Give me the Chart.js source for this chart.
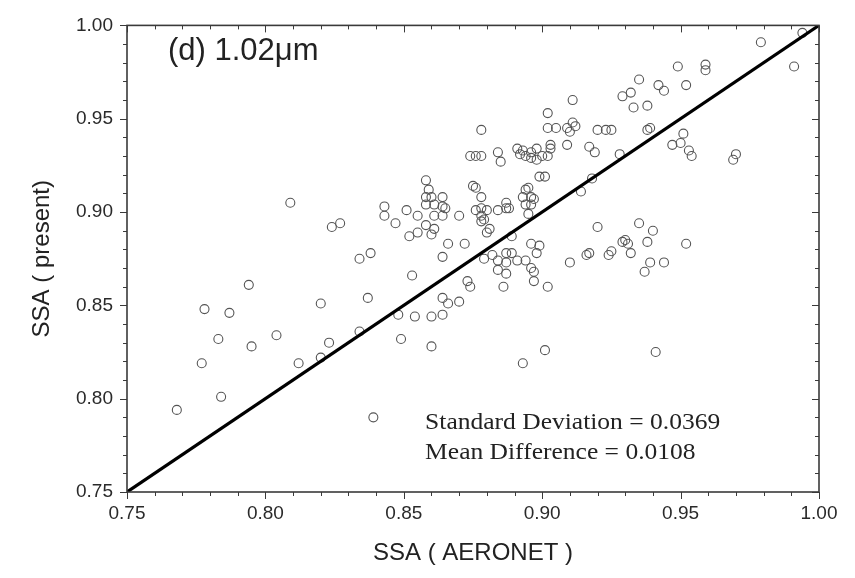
<!DOCTYPE html>
<html>
<head>
<meta charset="utf-8">
<title>SSA comparison 1.02um</title>
<script src="https://cdn.jsdelivr.net/npm/chart.js@4.4.1/dist/chart.umd.min.js"></script>
<style>
    html, body { margin: 0; padding: 0; background: #fff; }
    #wrap { width: 855px; height: 578px; }
</style>
</head>
<body>
<div id="wrap"><canvas id="ssaChart" width="855" height="578"></canvas></div>
<script>
// Values (x = AERONET SSA, y = retrieved SSA)
const aeronetSSA = [
    0.768, 0.777, 0.778, 0.783, 0.784, 0.787, 0.794, 0.795, 0.804, 0.809,
    0.812, 0.820, 0.820, 0.823, 0.824, 0.827, 0.834, 0.834, 0.838, 0.837,
    0.839, 0.843, 0.843, 0.847, 0.848, 0.849, 0.851, 0.852, 0.853, 0.854,
    0.855, 0.855, 0.858, 0.859, 0.858, 0.858, 0.858, 0.860, 0.860, 0.860,
    0.860, 0.861, 0.861, 0.861, 0.864, 0.864, 0.864, 0.864, 0.864, 0.864,
    0.865, 0.866, 0.866, 0.870, 0.870, 0.872, 0.873, 0.874, 0.874, 0.876,
    0.878, 0.875, 0.876, 0.876, 0.878, 0.878, 0.878, 0.879, 0.880, 0.878,
    0.878, 0.881, 0.880, 0.879, 0.882, 0.884, 0.884, 0.885, 0.884, 0.887,
    0.887, 0.888, 0.887, 0.887, 0.884, 0.887, 0.886, 0.889, 0.889, 0.891,
    0.892, 0.893, 0.894, 0.896, 0.896, 0.898, 0.898, 0.900, 0.902, 0.903,
    0.903, 0.894, 0.895, 0.893, 0.896, 0.897, 0.894, 0.896, 0.895, 0.899,
    0.901, 0.896, 0.899, 0.898, 0.891, 0.894, 0.896, 0.897, 0.897, 0.902,
    0.893, 0.901, 0.902, 0.905, 0.909, 0.912, 0.910, 0.911, 0.902, 0.911,
    0.909, 0.910, 0.914, 0.918, 0.916, 0.917, 0.917, 0.919, 0.920, 0.920,
    0.923, 0.925, 0.924, 0.925, 0.928, 0.929, 0.929, 0.930, 0.931, 0.932,
    0.932, 0.933, 0.935, 0.935, 0.937, 0.938, 0.938, 0.939, 0.938, 0.939,
    0.940, 0.941, 0.942, 0.944, 0.944, 0.947, 0.949, 0.950, 0.951, 0.952,
    0.952, 0.953, 0.954, 0.959, 0.959, 0.969, 0.970, 0.979, 0.991, 0.994
];
const presentSSA = [
    0.794, 0.819, 0.848, 0.832, 0.801, 0.846, 0.861, 0.828, 0.834, 0.905,
    0.819, 0.822, 0.851, 0.830, 0.892, 0.894, 0.836, 0.875, 0.878, 0.854,
    0.790, 0.903, 0.898, 0.894, 0.845, 0.832, 0.901, 0.887, 0.866, 0.844,
    0.898, 0.889, 0.917, 0.912, 0.908, 0.904, 0.893, 0.908, 0.888, 0.844,
    0.828, 0.904, 0.898, 0.891, 0.908, 0.903, 0.898, 0.876, 0.854, 0.845,
    0.902, 0.883, 0.851, 0.898, 0.852, 0.883, 0.863, 0.860, 0.930, 0.930,
    0.930, 0.914, 0.913, 0.901, 0.908, 0.902, 0.898, 0.896, 0.901, 0.944,
    0.895, 0.891, 0.889, 0.875, 0.877, 0.874, 0.932, 0.927, 0.901, 0.905,
    0.902, 0.902, 0.878, 0.873, 0.869, 0.867, 0.860, 0.887, 0.878, 0.934,
    0.931, 0.933, 0.930, 0.932, 0.929, 0.934, 0.928, 0.930, 0.930, 0.936,
    0.934, 0.912, 0.913, 0.908, 0.908, 0.907, 0.904, 0.904, 0.899, 0.919,
    0.919, 0.883, 0.882, 0.878, 0.874, 0.874, 0.870, 0.868, 0.863, 0.860,
    0.819, 0.826, 0.945, 0.945, 0.945, 0.946, 0.943, 0.948, 0.953, 0.960,
    0.936, 0.873, 0.911, 0.918, 0.877, 0.878, 0.935, 0.932, 0.944, 0.892,
    0.944, 0.944, 0.877, 0.879, 0.931, 0.962, 0.884, 0.885, 0.883, 0.878,
    0.964, 0.956, 0.971, 0.894, 0.868, 0.957, 0.944, 0.945, 0.884, 0.873,
    0.890, 0.825, 0.968, 0.965, 0.873, 0.936, 0.978, 0.937, 0.942, 0.968,
    0.883, 0.933, 0.930, 0.979, 0.976, 0.928, 0.931, 0.991, 0.978, 0.996
];

const axisMin = 0.75;
const axisMax = 1.00;
const majorStep = 0.05;
const minorStep = 0.01;
const panelLabel = '(d) 1.02\u03bcm';
const statLines = ['Standard Deviation = 0.0369', 'Mean Difference = 0.0108'];
const xTitle = 'SSA ( AERONET )';
const yTitle = 'SSA ( present)';

const scatterPoints = aeronetSSA.map((v, i) => ({ x: v, y: presentSSA[i] }));
const oneToOne = [{ x: axisMin, y: axisMin }, { x: axisMax, y: axisMax }];

// minor tick positions (every 0.01) for the framed axes
const tickValues = [];
for (let k = 0; k <= Math.round((axisMax - axisMin) / minorStep); k++) {
    tickValues.push(+(axisMin + k * minorStep).toFixed(2));
}

// Box frame + inward/outward tick marks like the original plot
const frameTicks = {
    id: 'frameTicks',
    afterDatasetsDraw(chart) {
        const { ctx, chartArea: a, scales: { x, y } } = chart;
        ctx.save();
        ctx.strokeStyle = '#3a3a3a';
        ctx.lineWidth = 1;
        tickValues.forEach(v => {
            const isMajor = Math.abs(Math.round(v / majorStep) * majorStep - v) < 1e-6;
            const len = isMajor ? 7 : 4;
            const px = Math.round(x.getPixelForValue(v)) + 0.5;
            const py = Math.round(y.getPixelForValue(v)) + 0.5;
            ctx.beginPath();
            // bottom + left point outwards
            ctx.moveTo(px, a.bottom); ctx.lineTo(px, a.bottom + len);
            ctx.moveTo(a.left, py); ctx.lineTo(a.left - len, py);
            // top + right point inwards
            ctx.moveTo(px, a.top); ctx.lineTo(px, a.top + len);
            ctx.moveTo(a.right, py); ctx.lineTo(a.right - len, py);
            ctx.stroke();
        });
        ctx.lineWidth = 1.6;
        ctx.strokeRect(a.left, a.top, a.right - a.left, a.bottom - a.top);
        ctx.restore();
    },
    afterDraw(chart) {
        const { ctx, scales: { x, y } } = chart;
        ctx.save();
        ctx.fillStyle = '#222';
        ctx.textBaseline = 'middle';
        ctx.textAlign = 'left';
        ctx.font = '31px "Liberation Sans", Arial, sans-serif';
        ctx.fillText(panelLabel, x.getPixelForValue(0.7648), y.getPixelForValue(0.986));

        // stats text in the original is a wide-set serif, stretch it a little
        ctx.font = '23px "Liberation Serif", "Times New Roman", serif';
        const statY = [0.7872, 0.7707];
        const left = x.getPixelForValue(0.8577);
        const targetW = x.getPixelForValue(0.9643) - left;
        const stretch = targetW / ctx.measureText(statLines[0]).width;
        statLines.forEach((t, i) => {
            ctx.save();
            ctx.translate(left, y.getPixelForValue(statY[i]));
            ctx.scale(stretch, 1);
            ctx.fillText(t, 0, 0);
            ctx.restore();
        });
        ctx.restore();
    }
};

const tickFont = { family: '"Liberation Sans", Arial, sans-serif', size: 19 };
const titleFont = { family: '"Liberation Sans", Arial, sans-serif', size: 24 };

new Chart(document.getElementById('ssaChart'), {
    type: 'scatter',
    data: {
        datasets: [{
            type: 'line',
            label: '1:1',
            data: oneToOne,
            borderColor: '#000',
            borderWidth: 3.2,
            pointRadius: 0,
            order: 0
        }, {
            label: 'SSA',
            data: scatterPoints,
            pointStyle: 'circle',
            pointRadius: 4.5,
            backgroundColor: 'rgba(0,0,0,0)',
            borderColor: '#555',
            borderWidth: 1.1,
            order: 1
        }]
    },
    options: {
        responsive: false,
        animation: false,
        layout: { padding: { top: 22, right: 36, left: 0, bottom: 0 } },
        plugins: {
            legend: { display: false },
            tooltip: { enabled: false }
        },
        scales: {
            x: {
                type: 'linear',
                min: axisMin,
                max: axisMax,
                afterFit: s => { s.height = 86; },
                border: { display: false },
                grid: { display: false, drawTicks: false },
                ticks: {
                    stepSize: majorStep,
                    color: '#2a2a2a',
                    font: tickFont,
                    padding: 10,
                    maxRotation: 0,
                    callback: v => v.toFixed(2)
                },
                title: {
                    display: true,
                    text: xTitle,
                    color: '#222',
                    font: titleFont,
                    padding: { top: 4, bottom: 10 }
                }
            },
            y: {
                type: 'linear',
                min: axisMin,
                max: axisMax,
                afterFit: s => { s.width = 127; },
                border: { display: false },
                grid: { display: false, drawTicks: false },
                ticks: {
                    stepSize: majorStep,
                    color: '#2a2a2a',
                    font: tickFont,
                    padding: 14,
                    callback: v => v.toFixed(2)
                },
                title: {
                    display: true,
                    text: yTitle,
                    color: '#222',
                    font: titleFont,
                    padding: { top: 28, bottom: 0 }
                }
            }
        }
    },
    plugins: [frameTicks]
});
</script>
</body>
</html>
